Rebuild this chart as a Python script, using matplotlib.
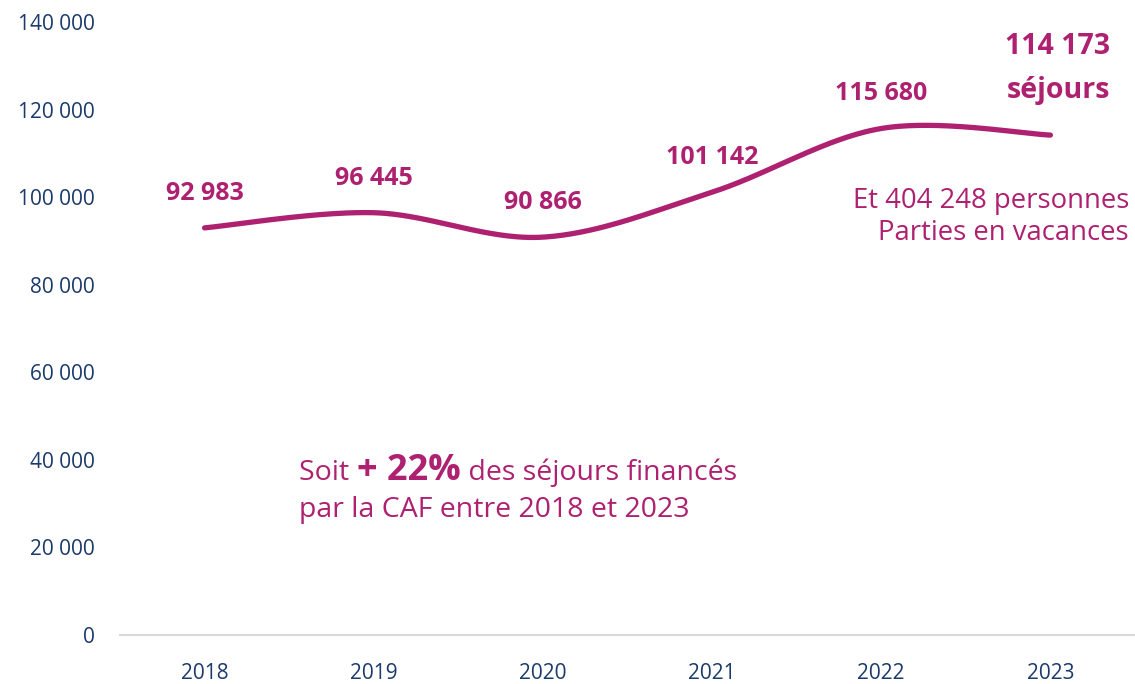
import numpy as np
import matplotlib
matplotlib.use("Agg")
import matplotlib.pyplot as plt

years = ["2018", "2019", "2020", "2021", "2022", "2023"]
sejours = [92983, 96445, 90866, 101142, 115680, 114173]
value_labels = ["92 983", "96 445", "90 866", "101 142", "115 680", "114 173"]
ytick_values = [0, 20000, 40000, 60000, 80000, 100000, 120000, 140000]
ytick_labels = ["0", "20 000", "40 000", "60 000", "80 000", "100 000", "120 000", "140 000"]

MAG = "#AE2170"
NAVY = "#1B3A6B"
plt.rcParams['font.family'] = ['Open Sans', 'DejaVu Sans']

fig = plt.figure(figsize=(11.35, 6.84), dpi=100)
ax = fig.add_axes([120/1135, 49/684, 1 - 120/1135, 613/684])

# smoothed line (Excel-like bezier smoothing)
x = np.arange(len(sejours), dtype=float)
y = np.array(sejours, dtype=float)
px, py = [], []
n = len(x)
for i in range(n - 1):
    p0 = np.array([x[i], y[i]]); p3 = np.array([x[i+1], y[i+1]])
    pm = np.array([x[max(i-1, 0)], y[max(i-1, 0)]])
    pp = np.array([x[min(i+2, n-1)], y[min(i+2, n-1)]])
    c1 = p0 + (p3 - pm) / 6.0
    c2 = p3 - (pp - p0) / 6.0
    t = np.linspace(0, 1, 60)[:, None]
    seg = (1-t)**3*p0 + 3*(1-t)**2*t*c1 + 3*(1-t)*t**2*c2 + t**3*p3
    px.extend(seg[:, 0]); py.extend(seg[:, 1])
ax.plot(px, py, color=MAG, lw=3.8, solid_capstyle='round')

# value labels
for i, (v, lab) in enumerate(zip(sejours, value_labels)):
    if i == len(sejours) - 1:
        ax.text(i + 0.045, 134400, lab, ha='center', va='center', color=MAG,
                fontsize=20.5, fontweight='bold')
        ax.text(i + 0.045, 124300, "séjours", ha='center', va='center', color=MAG,
                fontsize=20.5, fontweight='bold')
    else:
        ax.text(i, v + 7900, lab, ha='center', va='center', color=MAG,
                fontsize=18, fontweight='bold')

ax.set_xlim(-0.5, 5.5)
ax.set_ylim(0, 140000)
ax.set_xticks(x)
ax.set_xticklabels(years, fontsize=15, color=NAVY)
ax.set_yticks(ytick_values)
ax.set_yticklabels(ytick_labels, fontsize=15, color=NAVY)
ax.tick_params(axis='both', length=0)
ax.tick_params(axis='y', pad=18)
ax.tick_params(axis='x', pad=20)
for s in ['top', 'right', 'left']:
    ax.spines[s].set_visible(False)
ax.spines['bottom'].set_color('#D9D9D9')
ax.spines['bottom'].set_linewidth(1.5)

# right annotation
ax.text(5.465, 95460, "Et 404 248 personnes\nParties en vacances", ha='right', va='center',
        color=MAG, fontsize=19.8, linespacing=1.15)

# mixed annotation
fig.canvas.draw()
r = fig.canvas.get_renderer()
x0, yb = 0.56, 35400
t1 = ax.text(x0, yb, "Soit ", color=MAG, fontsize=20.5, va='baseline', ha='left')
fig.canvas.draw()
bb = t1.get_window_extent(r)
xd = ax.transData.inverted().transform((bb.x1, 0))[0]
t2 = ax.text(xd, yb, "+ 22%", color=MAG, fontsize=26, fontweight='bold', va='baseline', ha='left')
fig.canvas.draw()
bb = t2.get_window_extent(r)
xd = ax.transData.inverted().transform((bb.x1, 0))[0]
ax.text(xd, yb, " des séjours financés", color=MAG, fontsize=20.5, va='baseline', ha='left')
ax.text(x0, 26950, "par la CAF entre 2018 et 2023", color=MAG, fontsize=20.5, va='baseline', ha='left')

fig.savefig("out.png", dpi=100)
